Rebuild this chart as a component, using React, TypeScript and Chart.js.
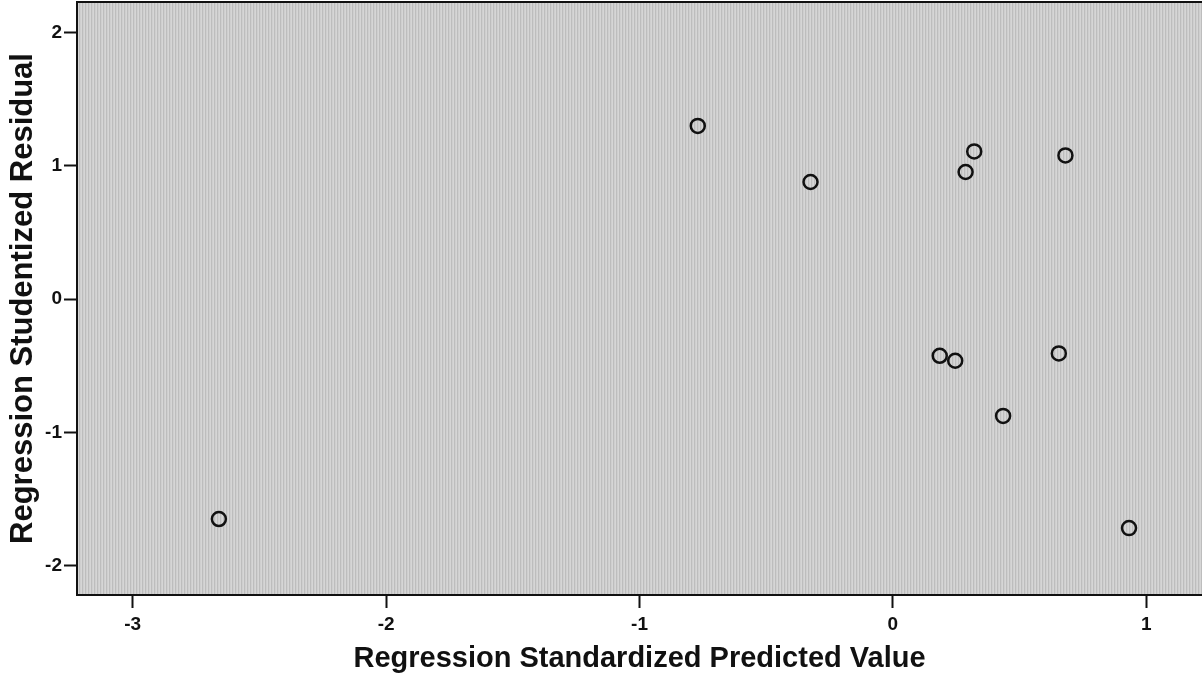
import React, { useEffect, useRef } from "react";
import { Chart, registerables } from "chart.js";

Chart.register(...registerables);

// Regression Standardized Predicted Value (x) vs Regression Studentized Residual (y)
const predictedValues = [-2.66, -0.77, -0.325, 0.287, 0.321, 0.681, 0.185, 0.246, 0.655, 0.435, 0.932];
const studentizedResiduals = [-1.65, 1.30, 0.879, 0.954, 1.109, 1.079, -0.425, -0.462, -0.407, -0.876, -1.718];
const xTickValues = [-3, -2, -1, 0, 1];
const yTickValues = [-2, -1, 0, 1, 2];
const xTitle = "Regression Standardized Predicted Value";
const yTitle = "Regression Studentized Residual";

const plotBackground = {
  id: "plotBackground",
  beforeDraw(chart: any) {
    const { ctx, chartArea } = chart;
    if (!chartArea) return;
    const pc = document.createElement("canvas");
    pc.width = 3;
    pc.height = 1;
    const p = pc.getContext("2d")!;
    const cols = ["#d6d6d6", "#bdbdbd", "#cfcfcf"];
    cols.forEach((c, i) => {
      p.fillStyle = c;
      p.fillRect(i, 0, 1, 1);
    });
    const pattern = ctx.createPattern(pc, "repeat");
    ctx.save();
    ctx.fillStyle = pattern || "#cacaca";
    ctx.fillRect(chartArea.left, chartArea.top, chartArea.right - chartArea.left, chartArea.bottom - chartArea.top);
    ctx.strokeStyle = "#111111";
    ctx.lineWidth = 2;
    ctx.beginPath();
    ctx.moveTo(chartArea.left, chartArea.top);
    ctx.lineTo(chartArea.right, chartArea.top);
    ctx.stroke();
    ctx.restore();
  },
};

const zeroPadding = (scale: any) => {
  scale.paddingTop = 0;
  scale.paddingBottom = 0;
  scale.paddingLeft = 0;
  scale.paddingRight = 0;
};

const tickFont = { family: "Liberation Sans, Arial, sans-serif", size: 19, weight: "bold" as const };

export default function App() {
  const ref = useRef<HTMLCanvasElement | null>(null);

  useEffect(() => {
    document.body.style.margin = "0";
    const canvas = ref.current;
    if (!canvas) return;
    const chart = new Chart(canvas, {
      type: "scatter",
      data: {
        datasets: [
          {
            data: predictedValues.map((x, i) => ({ x, y: studentizedResiduals[i] })),
            pointStyle: "circle",
            pointRadius: 7,
            pointBorderWidth: 2.5,
            pointBorderColor: "#111111",
            pointBackgroundColor: "rgba(0,0,0,0)",
          },
        ],
      },
      options: {
        animation: false,
        responsive: false,
        maintainAspectRatio: false,
        layout: { padding: { top: 2, right: 0, left: 0, bottom: 0 }, autoPadding: false },
        plugins: {
          legend: { display: false },
          tooltip: { enabled: false },
        },
        scales: {
          x: {
            type: "linear",
            min: -3.22,
            max: 1.22,
            afterBuildTicks: (scale: any) => {
              scale.ticks = xTickValues.map((v) => ({ value: v }));
            },
            afterFit: (scale: any) => {
              scale.height = 83;
              zeroPadding(scale);
            },
            ticks: {
              color: "#111111",
              font: tickFont,
              padding: 5,
              maxRotation: 0,
              callback: (v: any) => String(v),
            },
            grid: {
              drawOnChartArea: false,
              drawTicks: true,
              tickLength: 13,
              tickWidth: 2,
              tickColor: "#111111",
            },
            border: { display: true, color: "#111111", width: 2 },
            title: {
              display: true,
              text: xTitle,
              color: "#111111",
              font: { family: "Liberation Sans, Arial, sans-serif", size: 29, weight: "bold" },
              padding: { top: 0, bottom: 2 },
            },
          },
          y: {
            type: "linear",
            min: -2.22,
            max: 2.23,
            afterBuildTicks: (scale: any) => {
              scale.ticks = yTickValues.map((v) => ({ value: v }));
            },
            afterFit: (scale: any) => {
              scale.width = 77;
              zeroPadding(scale);
            },
            ticks: {
              color: "#111111",
              font: tickFont,
              padding: 2,
              callback: (v: any) => String(v),
            },
            grid: {
              drawOnChartArea: false,
              drawTicks: true,
              tickLength: 13,
              tickWidth: 2,
              tickColor: "#111111",
            },
            border: { display: true, color: "#111111", width: 2 },
            title: {
              display: true,
              text: yTitle,
              color: "#111111",
              font: { family: "Liberation Sans, Arial, sans-serif", size: 31, weight: "bold" },
              padding: { top: 5, bottom: 0 },
            },
          },
        },
      },
      plugins: [plotBackground],
    });
    return () => chart.destroy();
  }, []);

  return (
    <div style={{ position: "absolute", left: 0, top: 0, width: 1202, height: 678, background: "#ffffff" }}>
      <canvas ref={ref} width={1202} height={678} style={{ display: "block", width: 1202, height: 678 }} />
    </div>
  );
}
